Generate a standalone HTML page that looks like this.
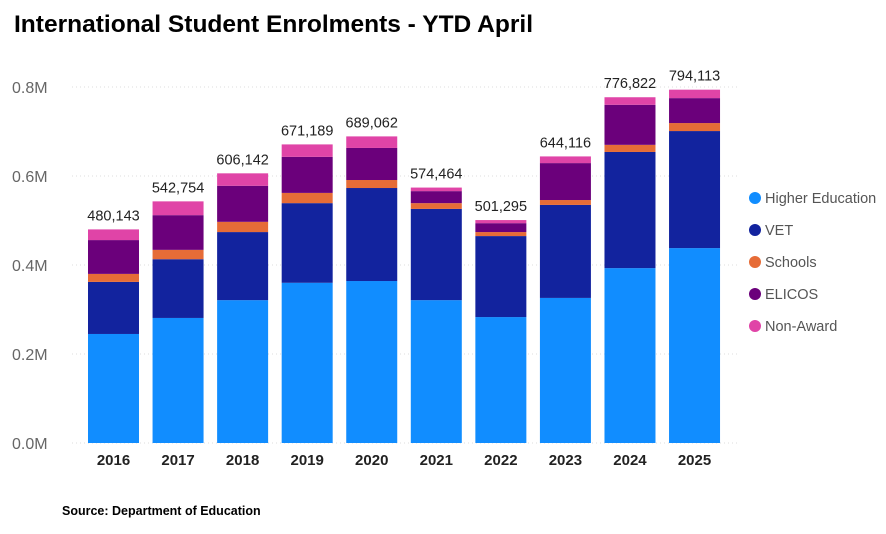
<!DOCTYPE html>
<html><head><meta charset="utf-8">
<style>
body{margin:0;background:#fff;width:886px;height:529px;overflow:hidden;font-family:"Liberation Sans",sans-serif;}
</style></head>
<body>
<svg id="chart" width="886" height="529" xmlns="http://www.w3.org/2000/svg">
<text x="14" y="32" font-size="24" font-weight="bold" fill="#000" textLength="519" lengthAdjust="spacingAndGlyphs" font-family="Liberation Sans, sans-serif">International Student Enrolments - YTD April</text>
<g id="grid"></g><g id="bars"></g><g id="labels"></g><g id="legend"></g>
<text x="62" y="515" font-size="12.5" font-weight="bold" fill="#000">Source: Department of Education</text>
</svg>
<script>
const years=["2016","2017","2018","2019","2020","2021","2022","2023","2024","2025"];
const higherEd=[0.245,0.281,0.321,0.360,0.364,0.321,0.283,0.326,0.393,0.438];
const vet=[0.117,0.132,0.153,0.179,0.209,0.205,0.182,0.209,0.261,0.263];
const schools=[0.018,0.021,0.023,0.023,0.018,0.013,0.009,0.011,0.016,0.018];
const elicos=[0.076,0.078,0.081,0.081,0.072,0.027,0.020,0.083,0.090,0.056];
const nonAward=[0.024,0.031,0.028,0.028,0.026,0.008,0.007,0.015,0.017,0.019];
const totals=["480,143","542,754","606,142","671,189","689,062","574,464","501,295","644,116","776,822","794,113"];
const yTicks=[0,0.2,0.4,0.6,0.8];
const yTickLabels=["0.0M","0.2M","0.4M","0.6M","0.8M"];
const seriesNames=["Higher Education","VET","Schools","ELICOS","Non-Award"];
const colors=["#118DFF","#12239E","#E66C37","#6B007B","#E044A7"];
const NS="http://www.w3.org/2000/svg";
const y0=443,pxPer=445,x0=113.5,step=64.56,bw=51;
const y=v=>y0-v*pxPer, xc=i=>x0+i*step;
function mk(tag,attrs,parent){const e=document.createElementNS(NS,tag);for(const k in attrs)e.setAttribute(k,attrs[k]);parent.appendChild(e);return e;}
const grid=document.getElementById('grid'),bars=document.getElementById('bars'),labels=document.getElementById('labels'),legend=document.getElementById('legend');
yTicks.forEach((t,i)=>{
 const l=mk('line',{x1:72,x2:740,y1:y(t),y2:y(t),stroke:'#ddd','stroke-dasharray':'1,3'},grid);
 
 
 const tx=mk('text',{x:12,y:y(t)+6,'font-size':16,fill:'#666'},grid);tx.textContent=yTickLabels[i];
 
 
});
const series=[higherEd,vet,schools,elicos,nonAward];
years.forEach((yr,i)=>{
 let acc=0;
 series.forEach((s,k)=>{
  const r=mk('rect',{x:xc(i)-bw/2,y:y(acc+s[i]),width:bw,height:s[i]*pxPer,fill:colors[k]},bars);
  
  
  acc+=s[i];
 });
 const t=mk('text',{x:xc(i),y:y(acc)-9,'font-size':14.5,'text-anchor':'middle',fill:'#222'},labels);t.textContent=totals[i];
 
 
 const xl=mk('text',{x:xc(i),y:465,'font-size':15,'font-weight':'bold','text-anchor':'middle',fill:'#222'},labels);xl.textContent=yr;
 
 
});
seriesNames.forEach((n,k)=>{
 const cy=198+k*32;
 const g=mk('g',{},legend);
 
 
 mk('circle',{cx:755,cy:cy,r:6,fill:colors[k]},g);
 const t=mk('text',{x:765,y:cy+5,'font-size':14.5,fill:'#555'},g);t.textContent=n;
});
</script>
</body></html>
